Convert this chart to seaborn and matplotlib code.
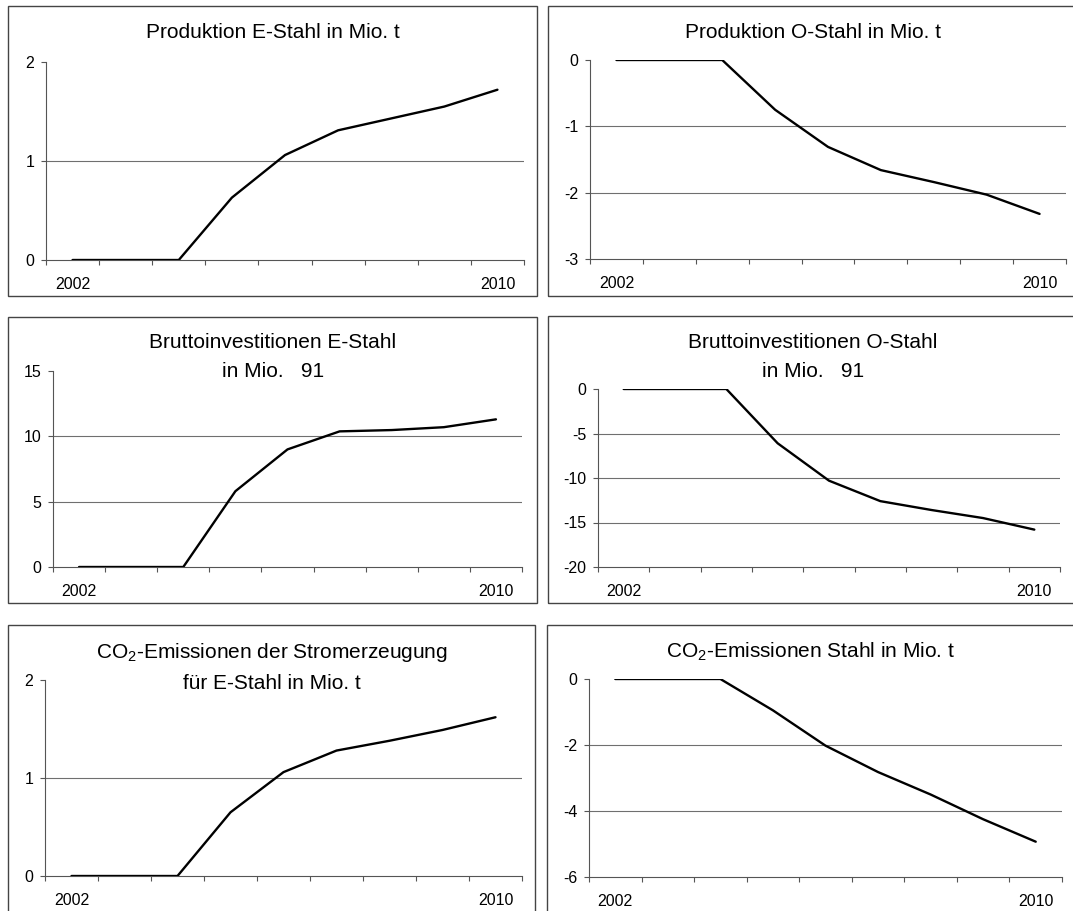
import matplotlib
matplotlib.use("Agg")
import matplotlib.pyplot as plt
from matplotlib.patches import Rectangle
from matplotlib.ticker import FixedLocator
import numpy as np
import pandas as pd
import seaborn as sns

# Years of the simulation period
years = [2002, 2003, 2004, 2005, 2006, 2007, 2008, 2009, 2010]

# Differences to the reference scenario
prod_e_stahl = [0.0, 0.0, 0.0, 0.63, 1.06, 1.31, 1.43, 1.55, 1.72]
prod_o_stahl = [0.0, 0.0, 0.0, -0.75, -1.31, -1.66, -1.84, -2.03, -2.32]
inv_e_stahl = [0.0, 0.0, 0.0, 5.8, 9.0, 10.38, 10.48, 10.7, 11.3]
inv_o_stahl = [0.0, 0.0, 0.0, -6.1, -10.3, -12.6, -13.6, -14.5, -15.8]
co2_strom = [0.0, 0.0, 0.0, 0.65, 1.06, 1.28, 1.38, 1.49, 1.62]
co2_stahl = [0.0, 0.0, 0.0, -0.95, -2.02, -2.82, -3.5, -4.25, -4.93]

titles = [
    "Produktion E-Stahl in Mio. t",
    "Produktion O-Stahl in Mio. t",
    "Bruttoinvestitionen E-Stahl\nin Mio.   91",
    "Bruttoinvestitionen O-Stahl\nin Mio.   91",
    "CO$_\\mathregular{2}$-Emissionen der Stromerzeugung\nfür E-Stahl in Mio. t",
    "CO$_\\mathregular{2}$-Emissionen Stahl in Mio. t",
]
series = [prod_e_stahl, prod_o_stahl, inv_e_stahl, inv_o_stahl, co2_strom, co2_stahl]
y_ticks = [
    [0, 1, 2],
    [-3, -2, -1, 0],
    [0, 5, 10, 15],
    [-20, -15, -10, -5, 0],
    [0, 1, 2],
    [-6, -4, -2, 0],
]

sns.set_theme(style="white")
plt.rcParams["font.family"] = ["Liberation Sans", "DejaVu Sans"]
plt.rcParams["mathtext.fontset"] = "custom"
plt.rcParams["mathtext.rm"] = "Liberation Sans"
plt.rcParams["mathtext.it"] = "Liberation Sans"

W, H = 1073, 911
fig = plt.figure(figsize=(W / 100, H / 100), dpi=100)
fig.patch.set_facecolor("white")

# pixel layout: (left, right, top, bottom) of each plot area
axes_px = [
    (46, 524, 62, 260),
    (590, 1066, 60, 259),
    (53, 522, 371, 567),
    (598, 1060, 389, 567),
    (45, 522, 680, 876),
    (589, 1062, 679, 877),
]
# frames round each chart: (left, right, top, bottom)
frames_px = [
    (8, 537, 6, 296),
    (548, 1077, 6, 296),
    (8, 537, 317, 603),
    (548, 1077, 316, 603),
    (8, 535, 625, 915),
    (547, 1077, 625, 915),
]
# title centre (x, y) in pixels
title_px = [
    (273, 32),
    (813, 32),
    (273, 357),
    (813, 357),
    (272, 667),
    (811, 652),
]

for f in frames_px:
    l, r, t, b = f
    fig.add_artist(Rectangle((l / W, 1 - b / H), (r - l) / W, (b - t) / H,
                             transform=fig.transFigure, fill=False,
                             edgecolor="#444444", linewidth=1.0))

for i in range(6):
    l, r, t, b = axes_px[i]
    ax = fig.add_axes([l / W, 1 - b / H, (r - l) / W, (b - t) / H])
    ax.set_facecolor("none")
    df = pd.DataFrame({"Jahr": years, "Wert": series[i]})
    ticks = y_ticks[i]
    for g in ticks[1:-1]:
        ax.axhline(g, color="#6f6f6f", linewidth=0.8, zorder=0)
    sns.lineplot(data=df, x="Jahr", y="Wert", ax=ax, color="black",
                 linewidth=1.7, zorder=3)
    ax.set_xlim(years[0] - 0.5, years[-1] + 0.5)
    ax.set_ylim(ticks[0], ticks[-1])
    ax.set_xlabel("")
    ax.set_ylabel("")
    ax.set_yticks(ticks)
    ax.set_yticklabels([str(v) for v in ticks])
    ax.set_xticks([years[0], years[-1]])
    ax.set_xticklabels([str(years[0]), str(years[-1])])
    ax.xaxis.set_minor_locator(FixedLocator(np.arange(years[0] - 0.5, years[-1] + 0.6, 1.0)))
    ax.tick_params(axis="x", which="major", length=0, pad=12.5, labelsize=11.5, colors="black")
    ax.tick_params(axis="x", which="minor", length=3.5, width=0.8, color="#555555", direction="out")
    ax.tick_params(axis="y", which="major", length=3.5, width=0.8, color="#555555",
                   direction="out", pad=5, labelsize=11.5, labelcolor="black")
    ax.tick_params(bottom=True, left=True, which="both")
    for side in ["top", "right"]:
        ax.spines[side].set_visible(False)
    for side in ["left", "bottom"]:
        ax.spines[side].set_color("#555555")
        ax.spines[side].set_linewidth(0.8)
    ax.grid(False)
    tx, ty = title_px[i]
    fig.text(tx / W, 1 - ty / H, titles[i], ha="center", va="center",
             fontsize=15, color="black", linespacing=1.65)

fig.savefig("out.png", dpi=100, facecolor="white")
